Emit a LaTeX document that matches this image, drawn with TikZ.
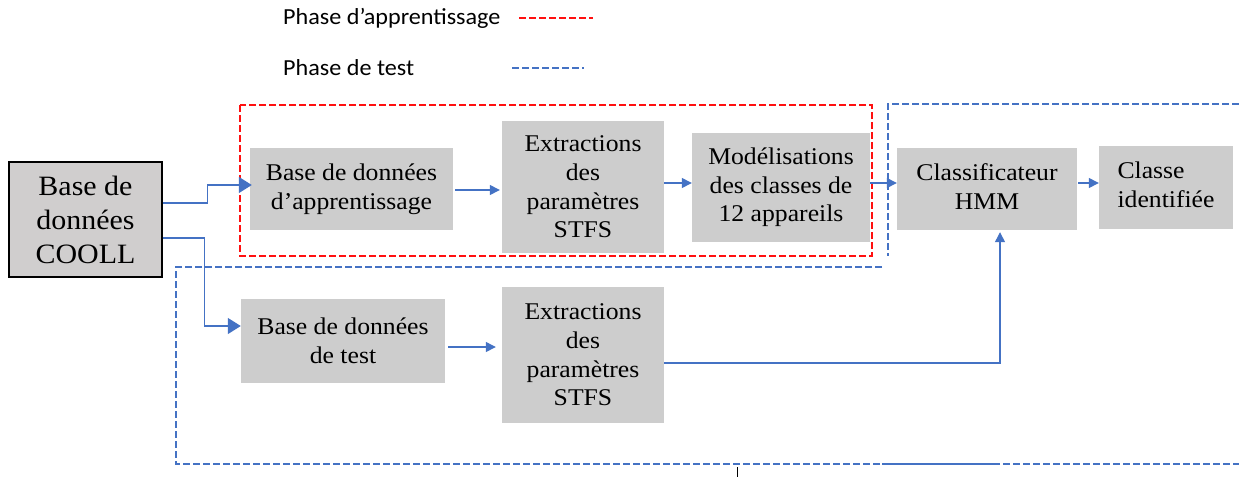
\documentclass[tikz,border=0pt]{standalone}
\usepackage{fontspec}
\setmainfont[FakeStretch=1.07]{Liberation Serif}
\newfontfamily\legendfont[FakeStretch=1.05]{Carlito}
\usetikzlibrary{arrows.meta}
\definecolor{boxgray}{HTML}{CDCDCD}
\definecolor{coollgray}{HTML}{D0CECE}
\definecolor{arrblue}{HTML}{4472C4}
\definecolor{dashred}{HTML}{FF1010}
\tikzset{
  gbox/.style={fill=boxgray, draw=none, inner sep=0pt, align=center,
    font=\fontsize{24}{28.7}\selectfont},
  coollbox/.style={fill=coollgray, draw=black, line width=1.2pt, inner sep=0pt, align=center,
    font=\fontsize{28}{34}\selectfont},
  arr/.style={draw=arrblue, line width=1.3pt, -{Triangle[length=10pt,width=10pt]}},
  arrbig/.style={draw=arrblue, line width=1.3pt, -{Triangle[length=13pt,width=16pt]}},
  reddash/.style={draw=dashred, line width=2.2pt, dash pattern=on 7pt off 3pt},
  bluedash/.style={draw=arrblue, line width=2.2pt, dash pattern=on 7pt off 3pt},
  legendtext/.style={font=\legendfont\fontsize{23}{26}\selectfont, anchor=west, inner sep=0pt},
}
\begin{document}
\begin{tikzpicture}[x=1pt,y=-1pt]
\useasboundingbox (0,0) rectangle (1239,477);
% legend
\node[legendtext] (lg1) at (283,18) {Phase d’apprentissage};
\node[legendtext] (lg2) at (283,68) {Phase de test};
\coordinate (r1a) at (519,18); \coordinate (r1b) at (593,18);
\coordinate (b1a) at (512,68); \coordinate (b1b) at (584,68);
\draw[reddash] (r1a) -- (r1b);
\draw[bluedash] (b1a) -- (b1b);
% phase frames
\draw[reddash] (240,105) rectangle (872,256);
\draw[bluedash] (1239,104) -- (888,104) -- (888,256);
\draw[bluedash] (882,267) -- (176,267) -- (176,464) -- (1239,464);
\draw[draw=arrblue, line width=2.2pt] (882,464) -- (1000,464);
\draw[black, line width=1pt] (737,467) -- (737,477);
% boxes
\node[coollbox, minimum width=153pt, minimum height=115pt] (COOLL) at (85.5,219.5) {Base de\\données\\COOLL};
\node[gbox, minimum width=203pt, minimum height=82pt] (B1) at (351.5,189) {Base de données\\d’apprentissage};
\node[gbox, minimum width=162pt, minimum height=132pt] (E1) at (583,187) {Extractions\\des\\paramètres\\STFS};
\node[gbox, minimum width=178pt, minimum height=109pt] (M) at (781,187.5) {Modélisations\\des classes de\\12 appareils};
\node[gbox, minimum width=180pt, minimum height=82pt] (C) at (987,189) {\raisebox{4pt}{\begin{tabular}{@{}c@{}}Classificateur\\[0.7pt]HMM\end{tabular}}};
\node[gbox, minimum width=134pt, minimum height=83pt] (CI) at (1166,187.5) {\raisebox{3pt}{\begin{tabular}{@{}l@{}}Classe\\[0.7pt]identifiée\end{tabular}}};
\node[gbox, minimum width=204pt, minimum height=84pt] (B2) at (343,341) {Base de données\\de test};
\node[gbox, minimum width=162pt, minimum height=136pt] (E2) at (583,355) {Extractions\\des\\paramètres\\STFS};
% connectors
\draw[arrbig] ([yshift=16.5pt]COOLL.east) -- ++(45,0) |- ([yshift=4pt,xshift=2pt]B1.west);
\draw[arrbig] ([yshift=-18.5pt]COOLL.east) -- ++(42,0) |- (B2.west |- 0,326);
\draw[arr] ([xshift=2pt]B1.east |- 0,190) -- ([xshift=-2pt]E1.west |- 0,190);
\draw[arr] (E1.east |- 0,183) -- (M.west |- 0,183);
\draw[arr] (M.east |- 0,183) -- (C.west |- 0,183);
\draw[arr] ([xshift=1pt]C.east |- 0,183) -- (CI.west |- 0,183);
\draw[arr] ([xshift=3pt]B2.east |- 0,347) -- ([xshift=-6pt]E2.west |- 0,347);
\draw[arr] (E2.east |- 0,363) -| ([xshift=13pt,yshift=-2pt]C.south);
\end{tikzpicture}
\end{document}
